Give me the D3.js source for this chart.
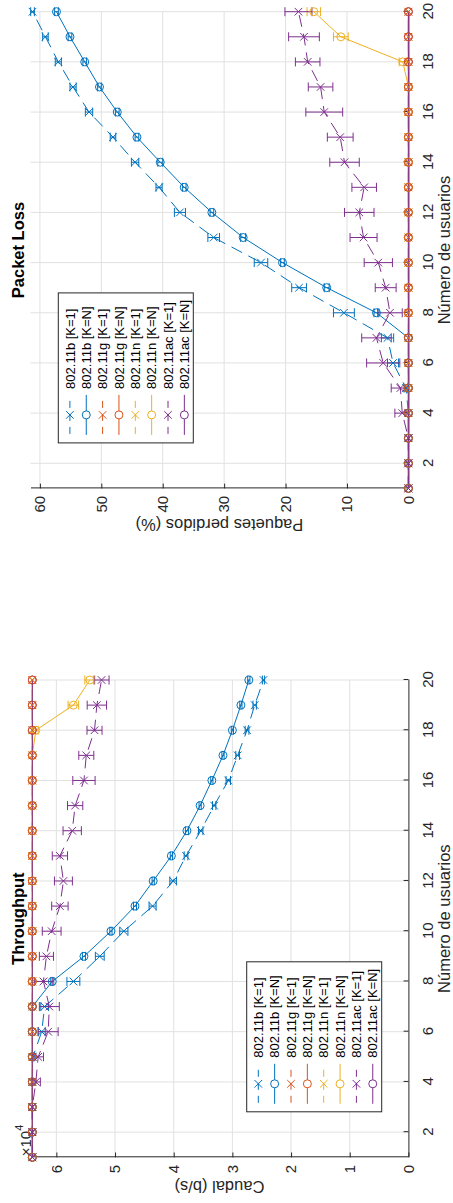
<!DOCTYPE html>
<html>
<head>
<meta charset="utf-8">
<script src="https://cdn.jsdelivr.net/npm/d3@7"></script>
<style>
  html, body { margin: 0; padding: 0; background: #fff; }
  svg { display: block; font-family: "Liberation Sans", Arial, Helvetica, sans-serif; }
</style>
</head>
<body>
<svg id="fig" width="453" height="1203"></svg>
<script>
// ---------------- data ----------------
const users = [1, 2, 3, 4, 5, 6, 7, 8, 9, 10, 11, 12, 13, 14, 15, 16, 17, 18, 19, 20];
const seriesNames = ["802.11b [K=1]", "802.11b [K=N]", "802.11g [K=1]", "802.11g [K=N]",
                     "802.11n [K=1]", "802.11n [K=N]", "802.11ac [K=1]", "802.11ac [K=N]"];
const xTicks = [2, 4, 6, 8, 10, 12, 14, 16, 18, 20];
const lossTicks = [0, 10, 20, 30, 40, 50, 60];
const rateTicks = [0, 10000, 20000, 30000, 40000, 50000, 60000];

// Throughput (b/s) and its error half-widths
const rateB1     = [64100, 64100, 64100, 64100, 64000, 62500, 62000, 57100, 52600, 48500, 43600, 40100, 37900, 35400, 33100, 30700, 29100, 27500, 26200, 24700];
const rateB1Err  = [0, 0, 0, 0, 200, 600, 650, 1100, 750, 700, 600, 560, 320, 380, 290, 380, 320, 320, 290, 190];
const rateBN     = [64100, 64100, 64100, 64100, 64100, 64100, 64100, 60700, 55300, 50700, 46600, 43500, 40400, 37750, 35500, 33500, 31600, 30000, 28550, 27200];
const rateBNErr  = [0, 0, 0, 0, 0, 0, 0, 260, 260, 190, 260, 190, 190, 260, 190, 190, 190, 190, 190, 190];
const rateG1     = [64100, 64100, 64100, 64100, 64100, 64100, 64100, 64100, 64100, 64100, 64100, 64100, 64100, 64100, 64100, 64100, 64100, 64100, 64100, 64100];
const rateG1Err  = [0, 0, 0, 0, 0, 0, 0, 0, 0, 0, 0, 0, 0, 0, 0, 0, 0, 0, 0, 0];
const rateGN     = [64100, 64100, 64100, 64100, 64100, 64100, 64100, 64100, 64100, 64100, 64100, 64100, 64100, 64100, 64100, 64100, 64100, 64100, 64100, 64100];
const rateGNErr  = [0, 0, 0, 0, 0, 0, 0, 0, 0, 0, 0, 0, 0, 0, 0, 0, 0, 0, 0, 0];
const rateN1     = [64100, 64100, 64100, 64100, 64100, 64100, 64100, 64100, 64100, 64100, 64100, 64100, 64100, 64100, 64100, 64100, 64100, 64100, 64100, 64100];
const rateN1Err  = [0, 0, 0, 0, 0, 0, 0, 0, 0, 0, 0, 0, 0, 0, 0, 0, 0, 0, 0, 0];
const rateNN     = [64100, 64100, 64100, 64100, 64100, 64100, 64100, 64100, 64100, 64100, 64100, 64100, 64100, 64100, 64100, 64100, 64100, 63500, 57100, 54300];
const rateNNErr  = [0, 0, 0, 0, 0, 0, 0, 0, 0, 0, 0, 0, 0, 0, 0, 0, 0, 400, 900, 850];
const rateAC1    = [64100, 64100, 64100, 63500, 63100, 61400, 61200, 62200, 61700, 60800, 59400, 58800, 59400, 57300, 56800, 55300, 54900, 53500, 53100, 52300];
const rateAC1Err = [0, 0, 0, 770, 900, 1700, 1700, 1500, 1200, 1600, 1400, 1530, 1300, 1560, 1300, 1900, 1280, 1280, 1650, 1280];
const rateACN    = [64100, 64100, 64100, 64100, 64100, 64100, 64100, 64100, 64100, 64100, 64100, 64100, 64100, 64100, 64100, 64100, 64100, 64100, 64100, 64100];
const rateACNErr = [0, 0, 0, 0, 0, 0, 0, 0, 0, 0, 0, 0, 0, 0, 0, 0, 0, 0, 0, 0];

// Packet loss (%) and its error half-widths
const lossB1     = [0, 0, 0, 0, 0.4, 2.5, 3.4, 10.5, 17.8, 24.0, 31.7, 37.2, 40.6, 44.5, 48.1, 52.0, 54.6, 57.0, 59.1, 61.2];
const lossB1Err  = [0, 0, 0, 0, 0.3, 0.9, 1.0, 1.7, 1.2, 1.1, 0.95, 0.9, 0.5, 0.6, 0.45, 0.6, 0.5, 0.5, 0.45, 0.3];
const lossBN     = [0, 0, 0, 0, 0, 0, 0, 5.2, 13.3, 20.5, 26.9, 32.0, 36.5, 40.4, 44.2, 47.4, 50.3, 52.7, 55.1, 57.3];
const lossBNErr  = [0, 0, 0, 0, 0, 0, 0, 0.4, 0.4, 0.3, 0.4, 0.3, 0.3, 0.4, 0.3, 0.3, 0.3, 0.3, 0.3, 0.3];
const lossG1     = [0, 0, 0, 0, 0, 0, 0, 0, 0, 0, 0, 0, 0, 0, 0, 0, 0, 0, 0, 0];
const lossG1Err  = [0, 0, 0, 0, 0, 0, 0, 0, 0, 0, 0, 0, 0, 0, 0, 0, 0, 0, 0, 0];
const lossGN     = [0, 0, 0, 0, 0, 0, 0, 0, 0, 0, 0, 0, 0, 0, 0, 0, 0, 0, 0, 0];
const lossGNErr  = [0, 0, 0, 0, 0, 0, 0, 0, 0, 0, 0, 0, 0, 0, 0, 0, 0, 0, 0, 0];
const lossN1     = [0, 0, 0, 0, 0, 0, 0, 0, 0, 0, 0, 0, 0, 0, 0, 0, 0, 0, 0, 0];
const lossN1Err  = [0, 0, 0, 0, 0, 0, 0, 0, 0, 0, 0, 0, 0, 0, 0, 0, 0, 0, 0, 0];
const lossNN     = [0, 0, 0, 0, 0, 0, 0, 0, 0, 0, 0, 0, 0, 0, 0, 0, 0, 0.9, 11.0, 15.4];
const lossNNErr  = [0, 0, 0, 0, 0, 0, 0, 0, 0, 0, 0, 0, 0, 0, 0, 0, 0, 0.6, 1.2, 1.1];
const lossAC1    = [0, 0, 0, 1.0, 1.3, 4.1, 5.2, 3.0, 3.7, 4.9, 7.3, 8.0, 7.2, 10.4, 11.1, 13.7, 14.3, 16.4, 17.0, 17.9];
const lossAC1Err = [0, 0, 0, 1.2, 1.5, 2.7, 2.4, 2.0, 1.7, 2.3, 2.2, 2.4, 2.0, 2.4, 2.1, 3.0, 2.0, 2.0, 2.5, 2.2];
const lossACN    = [0, 0, 0, 0, 0, 0, 0, 0, 0, 0, 0, 0, 0, 0, 0, 0, 0, 0, 0, 0];
const lossACNErr = [0, 0, 0, 0, 0, 0, 0, 0, 0, 0, 0, 0, 0, 0, 0, 0, 0, 0, 0, 0];

// ---------------- styles ----------------
const styles = [
  { color: "#0072BD", dash: true,  marker: "x" },
  { color: "#0072BD", dash: false, marker: "o" },
  { color: "#D95319", dash: true,  marker: "x" },
  { color: "#D95319", dash: false, marker: "o" },
  { color: "#EDB120", dash: true,  marker: "x" },
  { color: "#EDB120", dash: false, marker: "o" },
  { color: "#7E2F8E", dash: true,  marker: "x" },
  { color: "#7E2F8E", dash: false, marker: "o" }
];
// markers stacked in this order (last on top)
const markerOrder = [7, 4, 5, 0, 1, 2, 3, 6];

const AX = "#262626";
const GRID = "#e1e1e1";
const DASH = "12,7";
const FONT_TICK = 15, FONT_LABEL = 16.5, FONT_LEGEND = 13;

// The figure is laid out landscape (1203 x 453) and turned a quarter turn
const FW = 1203;
const svg = d3.select("#fig");
svg.append("rect").attr("width", 453).attr("height", 1203).attr("fill", "#fff");
const fig = svg.append("g").attr("transform", `translate(0,${FW}) rotate(-90)`);

function markerPath(type, x, y) {
  if (type === "x") {
    const s = 3.8;
    return `M${x - s},${y - s}L${x + s},${y + s}M${x - s},${y + s}L${x + s},${y - s}`;
  }
  const r = 4;
  return `M${x + r},${y}A${r},${r} 0 1,1 ${x - r},${y}A${r},${r} 0 1,1 ${x + r},${y}Z`;
}

function drawPanel(p) {
  const g = fig.append("g");
  const x = d3.scaleLinear().domain([1, 20]).range([p.X0, p.X1]);
  const y = d3.scaleLinear().domain([0, p.yMax]).range([p.Y1, p.Y0]);

  // grid
  const grid = g.append("g").attr("stroke", GRID).attr("stroke-width", 1);
  xTicks.forEach(t => grid.append("line")
    .attr("x1", x(t)).attr("x2", x(t)).attr("y1", p.Y0).attr("y2", p.Y1));
  p.yTicks.forEach(t => { if (t > 0) grid.append("line")
    .attr("x1", p.X0).attr("x2", p.X1).attr("y1", y(t)).attr("y2", y(t)); });

  // axes
  const tickLen = 4.8;
  const xAxis = d3.axisBottom(x).tickValues(xTicks).tickSizeInner(-tickLen).tickSizeOuter(0)
    .tickPadding(14.3).tickFormat(d3.format("d"));
  const yAxis = d3.axisLeft(y).tickValues(p.yTicks).tickSizeInner(-tickLen).tickSizeOuter(0)
    .tickPadding(7.5).tickFormat(p.tickFormat);
  const gx = g.append("g").attr("transform", `translate(0,${p.Y1})`).call(xAxis);
  const gy = g.append("g").attr("transform", `translate(${p.X0},0)`).call(yAxis);
  [gx, gy].forEach(a => {
    a.attr("font-family", null).attr("font-size", FONT_TICK);
    a.select(".domain").attr("stroke", AX).attr("stroke-width", 1);
    a.selectAll(".tick line").attr("stroke", AX).attr("stroke-width", 1);
    a.selectAll(".tick text").attr("fill", AX);
  });

  // exponent label
  if (p.exponent) {
    const t = g.append("text").attr("x", p.X0 + 1).attr("y", p.Y0 + 0.5)
      .attr("font-size", FONT_TICK).attr("fill", AX);
    t.append("tspan").text("\u00d710");
    t.append("tspan").attr("dy", -8.5).attr("font-size", 11).text(p.exponent);
  }

  // data lines and error bars
  const line = d3.line().x((d, i) => x(users[i])).y(d => y(d));
  p.series.forEach((s, k) => {
    const st = styles[k];
    const sg = g.append("g").attr("stroke", st.color).attr("fill", "none").attr("stroke-width", 1);
    sg.append("path").attr("d", line(s.v)).attr("stroke-dasharray", st.dash ? DASH : null);
    const cap = 4.5;
    s.v.forEach((v, i) => {
      const e = s.e[i];
      if (!e) return;
      const cx = x(users[i]);
      const lo = y(Math.max(v - e, 0)), hi = y(v + e);
      sg.append("path").attr("d",
        `M${cx},${lo}L${cx},${hi}M${cx - cap},${lo}L${cx + cap},${lo}M${cx - cap},${hi}L${cx + cap},${hi}`);
    });
  });

  // markers
  markerOrder.forEach(k => {
    const st = styles[k];
    const s = p.series[k];
    g.append("path")
      .attr("d", s.v.map((v, i) => markerPath(st.marker, x(users[i]), y(v))).join(""))
      .attr("fill", "none").attr("stroke", st.color).attr("stroke-width", 1);
  });

  // title and axis labels
  const cx = (p.X0 + p.X1) / 2;
  g.append("text").attr("x", cx).attr("y", p.Y0 - 7).attr("text-anchor", "middle")
    .attr("font-size", FONT_LABEL).attr("font-weight", "bold").attr("fill", "#000").text(p.title);
  g.append("text").attr("x", cx).attr("y", p.Y1 + 41.5).attr("text-anchor", "middle")
    .attr("font-size", FONT_LABEL).attr("fill", AX).text("Número de usuarios");
  g.append("text").attr("transform", `translate(${p.yLabelX},${(p.Y0 + p.Y1) / 2}) rotate(-90)`)
    .attr("text-anchor", "middle").attr("font-size", FONT_LABEL).attr("fill", AX).text(p.yLabel);

  // legend
  const lw = 150, rowH = 16.35;
  const lx = p.X0 + 195.5 - lw, ly = p.legendTop;
  const lg = g.append("g");
  lg.append("rect").attr("x", lx).attr("y", ly).attr("width", lw).attr("height", 135)
    .attr("fill", "#fff").attr("stroke", AX).attr("stroke-width", 1);
  seriesNames.forEach((name, k) => {
    const st = styles[k];
    const ry = ly + 11.6 + k * rowH;
    lg.append("line").attr("x1", lx + 8).attr("x2", lx + 48).attr("y1", ry).attr("y2", ry)
      .attr("stroke", st.color).attr("stroke-width", 1)
      .attr("stroke-dasharray", st.dash ? "7,6" : null).attr("stroke-dashoffset", st.dash ? -1 : null);
    lg.append("path").attr("d", markerPath(st.marker, lx + 28, ry))
      .attr("fill", "#fff").attr("stroke", st.color).attr("stroke-width", 1);
    lg.append("text").attr("x", lx + 54).attr("y", ry + 4.7).attr("font-size", FONT_LEGEND)
      .attr("fill", "#000").text(name);
  });
}

// Throughput panel (left)
drawPanel({
  X0: 45.7, X1: 523, Y0: 30.5, Y1: 408.4,
  yMax: 64410, yTicks: rateTicks, tickFormat: d => d / 10000, exponent: "4",
  title: "Throughput", yLabel: "Caudal (b/s)", yLabelX: 22,
  legendTop: 246.7,
  series: [
    { v: rateB1, e: rateB1Err }, { v: rateBN, e: rateBNErr },
    { v: rateG1, e: rateG1Err }, { v: rateGN, e: rateGNErr },
    { v: rateN1, e: rateN1Err }, { v: rateNN, e: rateNNErr },
    { v: rateAC1, e: rateAC1Err }, { v: rateACN, e: rateACNErr }
  ]
});

// Packet loss panel (right)
drawPanel({
  X0: 714.6, X1: 1191.3, Y0: 30.5, Y1: 408.4,
  yMax: 61.53, yTicks: lossTicks, tickFormat: d3.format("d"), exponent: null,
  title: "Packet Loss", yLabel: "Paquetes perdidos (%)", yLabelX: 684.5,
  legendTop: 58.3,
  series: [
    { v: lossB1, e: lossB1Err }, { v: lossBN, e: lossBNErr },
    { v: lossG1, e: lossG1Err }, { v: lossGN, e: lossGNErr },
    { v: lossN1, e: lossN1Err }, { v: lossNN, e: lossNNErr },
    { v: lossAC1, e: lossAC1Err }, { v: lossACN, e: lossACNErr }
  ]
});
</script>
</body>
</html>
